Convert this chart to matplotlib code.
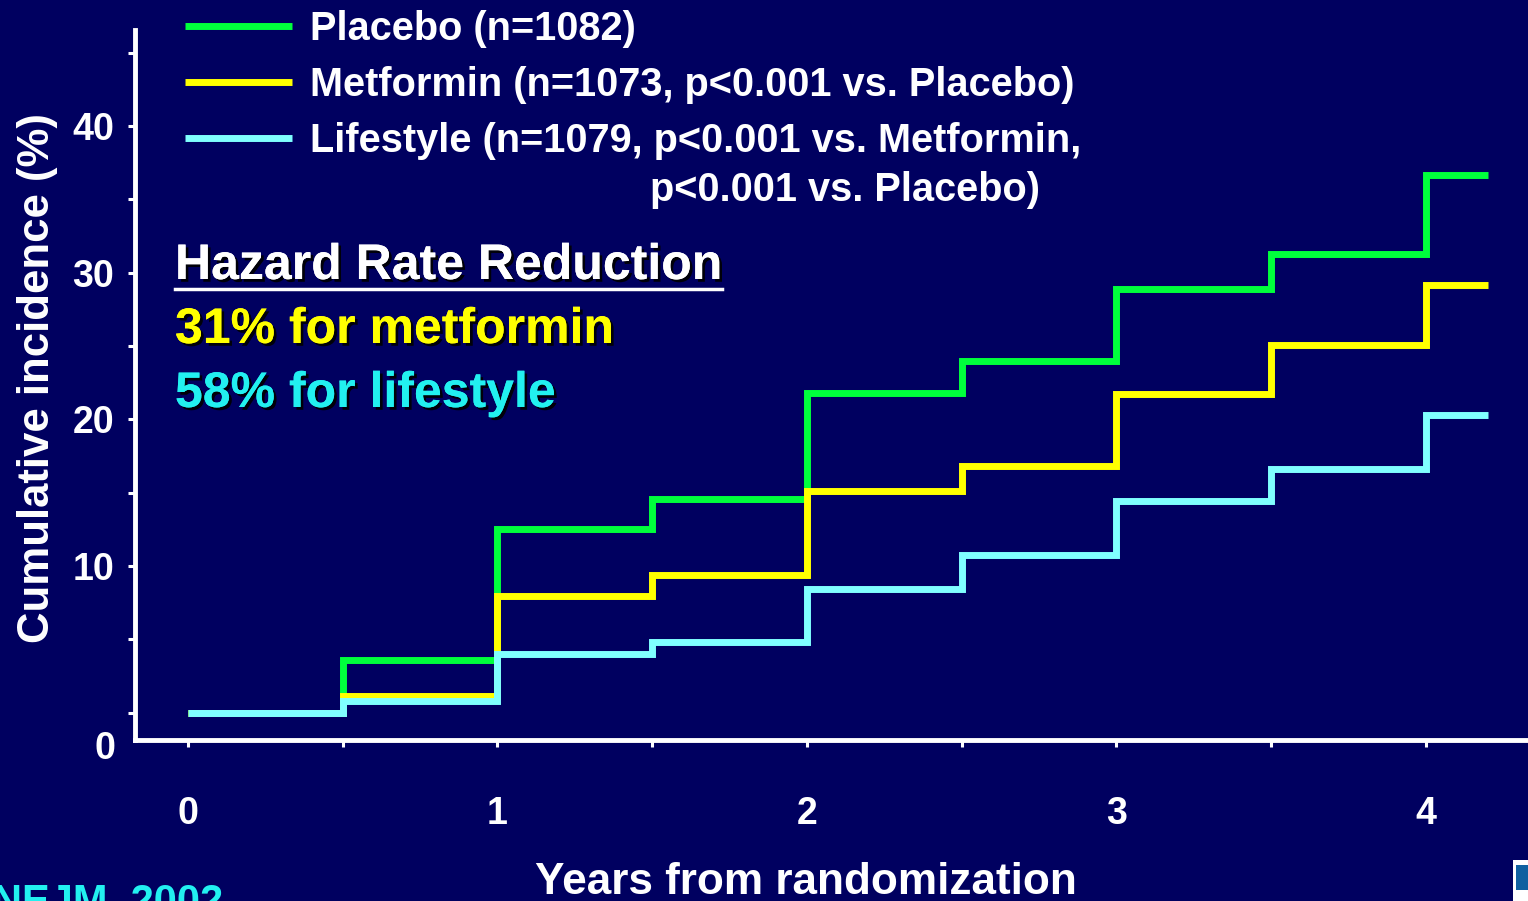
import matplotlib
matplotlib.use('Agg')
import matplotlib.pyplot as plt
import matplotlib.patheffects as pe
from matplotlib.patches import Rectangle

plt.rcParams['font.family'] = ['Liberation Sans', 'DejaVu Sans']
plt.rcParams['font.weight'] = 'bold'

# data: cumulative incidence (%) at each half-year step
years = [0, 0.5, 1, 1.5, 2, 2.5, 3, 3.5, 4, 4.2]
placebo = [0, 3.6, 12.5, 14.6, 21.8, 24.0, 28.9, 31.3, 36.7, 36.7]
metformin = [0, 1.1, 7.95, 9.4, 15.1, 16.8, 21.7, 25.1, 29.2, 29.2]
lifestyle = [0, 0.8, 4.0, 4.8, 8.4, 10.75, 14.4, 16.6, 20.3, 20.3]

labels = ['Placebo (n=1082)',
          'Metformin (n=1073, p<0.001 vs. Placebo)',
          'Lifestyle (n=1079, p<0.001 vs. Metformin,']
colors = ['#00ff3c', '#ffff00', '#80ffff']

bg = '#000060'
W, H = 1528, 901
fig = plt.figure(figsize=(W / 100, H / 100), dpi=100, facecolor=bg)
ax = fig.add_axes([135 / W, 1 - 740 / H, 1 - 135 / W, (740 - 30) / H])
ax.set_facecolor(bg)

handles = []
for ys, c, lab in zip([placebo, metformin, lifestyle], colors, labels):
    h, = ax.step(years, ys, where='post', color=c, lw=5, label=lab,
                 solid_joinstyle='miter', solid_capstyle='butt')
    handles.append(h)

ax.set_xlim(-0.171, 4.33)
ax.set_ylim(-1.87, 46.56)

for s in ['top', 'right']:
    ax.spines[s].set_visible(False)
for s in ['left', 'bottom']:
    ax.spines[s].set_color('white')
    ax.spines[s].set_linewidth(3.5)

ax.set_xticks([0, 1, 2, 3, 4])
ax.set_xticks([0.5, 1.5, 2.5, 3.5], minor=True)
ax.set_yticks([10, 20, 30, 40])
ax.set_yticks([0, 5, 15, 25, 35, 45], minor=True)
ax.tick_params(axis='both', which='both', colors='white', width=2.2, labelsize=27)
ax.tick_params(axis='x', which='both', length=5, pad=35)
ax.tick_params(axis='y', which='both', length=5, pad=10)
for t in ax.get_xticklabels() + ax.get_yticklabels():
    t.set_fontweight('bold')

# "0" label sits at the bottom of the y axis
ax.text(-20 / 1393, -2.5, '0', transform=ax.get_yaxis_transform(), ha='right', va='center',
        color='white', fontsize=27, fontweight='bold')

fig.text(38 / W, 1 - 378 / H, 'Cumulative incidence (%)', rotation=90, ha='center',
         va='center', color='white', fontsize=31.5, fontweight='bold')
fig.text(806 / W, 1 - 882 / H, 'Years from randomization', ha='center', va='center',
         color='white', fontsize=31.8, fontweight='bold')

leg = fig.legend(handles=handles, loc='upper left', bbox_to_anchor=(185 / W, 1 - 10 / H),
                 frameon=False, fontsize=28.6, handlelength=2.7, handletextpad=0.45,
                 labelspacing=0.45, borderpad=0, borderaxespad=0)
for t in leg.get_texts():
    t.set_color('white')
    t.set_fontweight('bold')
fig.text(650 / W, 1 - 190 / H, 'p<0.001 vs. Placebo)', ha='left', va='center',
         color='white', fontsize=28.6, fontweight='bold')

shadow = [pe.withSimplePatchShadow(offset=(2, -2), shadow_rgbFace='black', alpha=0.9),
          pe.Normal()]
fig.text(175 / W, 1 - 266 / H, 'Hazard Rate Reduction', ha='left', va='center',
         color='white', fontsize=36, fontweight='bold', path_effects=shadow)
fig.add_artist(plt.Line2D([175 / W, 722 / W], [1 - 289 / H, 1 - 289 / H],
                          color='white', lw=2.5))
fig.text(175 / W, 1 - 330 / H, '31% for metformin', ha='left', va='center',
         color='#ffff00', fontsize=36, fontweight='bold', path_effects=shadow)
fig.text(175 / W, 1 - 394 / H, '58% for lifestyle', ha='left', va='center',
         color='#22f0f0', fontsize=36, fontweight='bold', path_effects=shadow)

fig.text(-8 / W, 1 - 882 / H, 'NEJM, 2002', ha='left', va='top',
         color='#22f0f0', fontsize=30, fontweight='bold')

# corner logo fragment
fig.add_artist(Rectangle((1513 / W, 0), 15 / W, 41 / H, transform=fig.transFigure,
                         facecolor='white', edgecolor='none'))
fig.add_artist(Rectangle((1516 / W, 11 / H), 12 / W, 25 / H, transform=fig.transFigure,
                         facecolor='#1060a0', edgecolor='none'))

fig.savefig('out.png', dpi=100, facecolor=bg)
